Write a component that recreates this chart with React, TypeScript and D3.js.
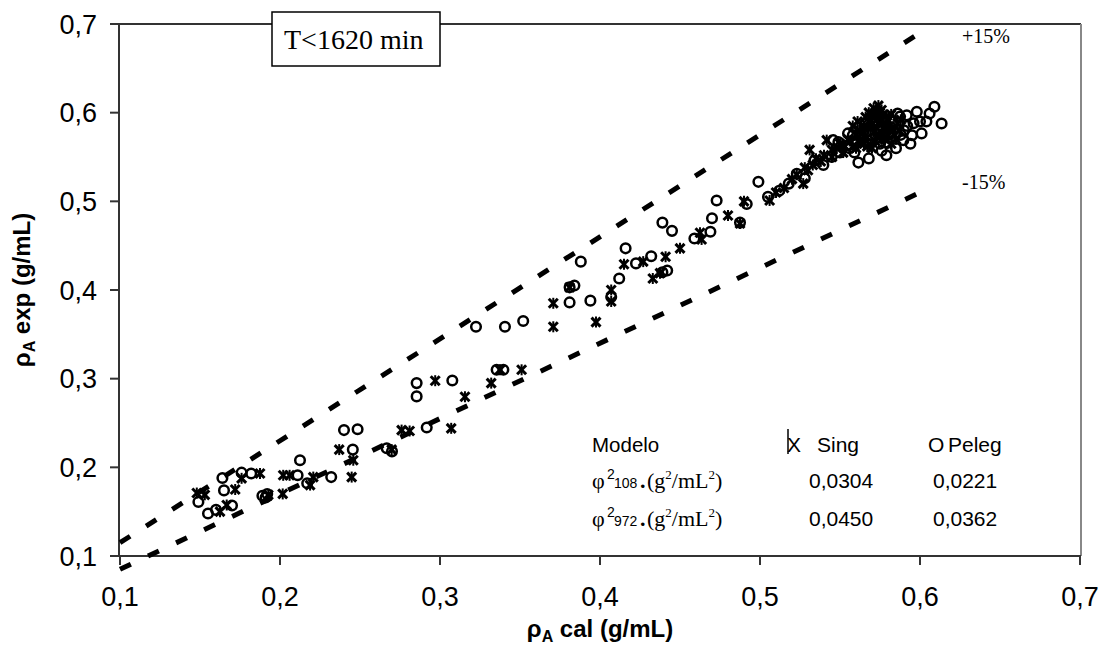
import React from "react";
import * as d3 from "d3";

// ---- data ----
const xTicks = [0.1, 0.2, 0.3, 0.4, 0.5, 0.6, 0.7];
const yTicks = [0.1, 0.2, 0.3, 0.4, 0.5, 0.6, 0.7];
const tickLabels = ["0,1", "0,2", "0,3", "0,4", "0,5", "0,6", "0,7"];

const singPoints: [number, number][] = [
  [0.148, 0.171], [0.153, 0.169], [0.1625, 0.15], [0.1667, 0.1575], [0.172, 0.175],
  [0.176, 0.1876], [0.1875, 0.193], [0.1927, 0.169], [0.2017, 0.17], [0.202, 0.191],
  [0.206, 0.191], [0.2208, 0.189], [0.2188, 0.18], [0.237, 0.22], [0.2458, 0.208],
  [0.2448, 0.189], [0.2698, 0.22], [0.276, 0.242], [0.281, 0.241], [0.307, 0.244],
  [0.297, 0.2977], [0.3156, 0.2796], [0.332, 0.295], [0.3375, 0.31], [0.351, 0.31],
  [0.3708, 0.385], [0.3708, 0.3585], [0.3975, 0.3638], [0.407, 0.4], [0.407, 0.387],
  [0.381, 0.403], [0.415, 0.429], [0.427, 0.432], [0.433, 0.413], [0.4375, 0.419],
  [0.441, 0.4375], [0.45, 0.447], [0.4625, 0.4646], [0.4635, 0.457], [0.48, 0.484],
  [0.4875, 0.475], [0.49, 0.5], [0.506, 0.501], [0.51, 0.51], [0.515, 0.515],
  [0.52, 0.525], [0.523, 0.53], [0.527, 0.52], [0.53, 0.535], [0.531, 0.558],
  [0.535, 0.548], [0.538, 0.545], [0.5417, 0.569], [0.545, 0.55], [0.548, 0.56],
  [0.55, 0.565], [0.552, 0.555], [0.555, 0.57], [0.558, 0.562], [0.56, 0.575],
  [0.562, 0.58], [0.565, 0.585], [0.567, 0.572], [0.568, 0.59], [0.57, 0.595],
  [0.571, 0.578], [0.572, 0.6], [0.573, 0.583], [0.574, 0.608], [0.575, 0.59],
  [0.576, 0.57], [0.577, 0.598], [0.578, 0.585], [0.58, 0.575], [0.58, 0.592],
  [0.582, 0.565], [0.583, 0.58], [0.585, 0.57], [0.586, 0.588], [0.565, 0.565],
  [0.56, 0.56], [0.57, 0.56], [0.575, 0.6], [0.568, 0.6],
  [0.558, 0.585], [0.561, 0.59], [0.563, 0.57], [0.566, 0.595], [0.569, 0.583],
  [0.571, 0.605], [0.573, 0.592], [0.574, 0.575], [0.576, 0.603], [0.577, 0.588],
  [0.579, 0.596], [0.579, 0.58], [0.581, 0.585], [0.582, 0.598], [0.584, 0.575],
  [0.587, 0.58], [0.588, 0.592], [0.564, 0.577], [0.567, 0.562], [0.572, 0.568],
  [0.578, 0.57], [0.57, 0.587], [0.574, 0.597], [0.562, 0.567], [0.553, 0.562],
  [0.556, 0.568], [0.545, 0.558], [0.54, 0.552], [0.528, 0.538], [0.533, 0.541]
];

const pelegPoints: [number, number][] = [
  [0.149, 0.161], [0.155, 0.148], [0.16, 0.152], [0.165, 0.174], [0.164, 0.188],
  [0.17, 0.157], [0.176, 0.194], [0.182, 0.193], [0.189, 0.168], [0.192, 0.17],
  [0.191, 0.166], [0.2125, 0.208], [0.211, 0.191], [0.217, 0.182], [0.232, 0.189],
  [0.2455, 0.22], [0.24, 0.242], [0.2485, 0.243], [0.2667, 0.2215], [0.27, 0.218],
  [0.2917, 0.245], [0.2854, 0.295], [0.2854, 0.28], [0.3077, 0.298], [0.3354, 0.31],
  [0.3396, 0.31], [0.3225, 0.3585], [0.3406, 0.3585], [0.352, 0.365], [0.381, 0.403],
  [0.384, 0.405], [0.381, 0.386], [0.394, 0.388], [0.388, 0.432], [0.407, 0.392],
  [0.412, 0.413], [0.416, 0.447], [0.4225, 0.43], [0.432, 0.438], [0.439, 0.476],
  [0.445, 0.4667], [0.439, 0.42], [0.442, 0.422], [0.459, 0.458], [0.469, 0.4657],
  [0.47, 0.481], [0.4729, 0.501], [0.4875, 0.476], [0.4917, 0.497], [0.499, 0.522],
  [0.505, 0.505], [0.512, 0.512], [0.518, 0.52], [0.523, 0.531], [0.528, 0.526],
  [0.534, 0.546], [0.5396, 0.541], [0.5448, 0.55], [0.5458, 0.569], [0.549, 0.567],
  [0.555, 0.5766], [0.558, 0.5746], [0.5615, 0.5437], [0.568, 0.5484], [0.579, 0.552],
  [0.5875, 0.5955], [0.5896, 0.569], [0.5917, 0.597], [0.595, 0.5746], [0.598, 0.601],
  [0.601, 0.5766], [0.604, 0.59], [0.606, 0.599], [0.609, 0.6067], [0.6135, 0.5878],
  [0.585, 0.56], [0.59, 0.58], [0.565, 0.58], [0.57, 0.57], [0.575, 0.565],
  [0.58, 0.575], [0.583, 0.59], [0.56, 0.565], [0.572, 0.59], [0.596, 0.588],
  [0.55, 0.555], [0.556, 0.56],
  [0.566, 0.588], [0.571, 0.598], [0.577, 0.593], [0.582, 0.583], [0.586, 0.599],
  [0.574, 0.58], [0.563, 0.575], [0.58, 0.566], [0.588, 0.575], [0.592, 0.585],
  [0.6, 0.59], [0.594, 0.565], [0.576, 0.557], [0.568, 0.565], [0.559, 0.555]
];

const refLineX = [0.1, 0.6];
const upperFactor = 1.15;
const lowerFactor = 0.85;

const legendRows = [
  { sub: "108", sing: "0,0304", peleg: "0,0221" },
  { sub: "972", sing: "0,0450", peleg: "0,0362" }
];

const SANS = "'Liberation Sans', Arial, sans-serif";
const SERIF = "'Liberation Serif', 'Times New Roman', serif";

export default function App() {
  const W = 1108, H = 645;
  const x = d3.scaleLinear().domain([0.1, 0.7]).range([120, 1080]);
  const y = d3.scaleLinear().domain([0.1, 0.7]).range([556, 24]);

  const line = d3.line<number>().x(d => x(d[0])).y(d => y(d[1]));
  const upper = line(refLineX.map(v => [v, v * upperFactor]) as any);
  const lower = line(refLineX.map(v => [v, v * lowerFactor]) as any);

  const axisCol = "#333";

  return (
    <svg width={W} height={H} style={{ position: "absolute", left: 0, top: 0, background: "#fff" }}>
      <rect x={0} y={0} width={W} height={H} fill="#fff" />
      {/* frame */}
      <line x1={119} y1={24} x2={1081} y2={24} stroke={axisCol} strokeWidth={2} />
      <line x1={1081} y1={24} x2={1081} y2={556} stroke="#888" strokeWidth={2} />
      <line x1={119} y1={23} x2={119} y2={557} stroke={axisCol} strokeWidth={2} />
      <line x1={110} y1={556} x2={1081} y2={556} stroke={axisCol} strokeWidth={2} />

      {yTicks.map((t, i) => (
        <g key={"y" + i}>
          <line x1={110} x2={119} y1={y(t)} y2={y(t)} stroke={axisCol} strokeWidth={2} />
          <text x={97} y={y(t) + 9.5} textAnchor="end" fontFamily={SANS} fontSize={27} fill="#000">
            {tickLabels[i]}
          </text>
        </g>
      ))}
      {xTicks.map((t, i) => (
        <g key={"x" + i}>
          <line x1={x(t)} x2={x(t)} y1={556} y2={565} stroke={axisCol} strokeWidth={2} />
          <text x={x(t)} y={606} textAnchor="middle" fontFamily={SANS} fontSize={27} fill="#000">
            {tickLabels[i]}
          </text>
        </g>
      ))}

      {/* reference lines */}
      <path d={upper || ""} stroke="#000" strokeWidth={5} strokeDasharray="12 19" fill="none" />
      <path d={lower || ""} stroke="#000" strokeWidth={5} strokeDasharray="12 19" fill="none" />

      {/* markers */}
      {pelegPoints.map((p, i) => (
        <circle key={"p" + i} cx={x(p[0])} cy={y(p[1])} r={4.8} fill="none" stroke="#000" strokeWidth={2.5} />
      ))}
      {singPoints.map((p, i) => {
        const cx = x(p[0]), cy = y(p[1]);
        return (
          <g key={"s" + i} stroke="#000" strokeWidth={3}>
            <line x1={cx - 4.5} y1={cy - 4.5} x2={cx + 4.5} y2={cy + 4.5} />
            <line x1={cx - 4.5} y1={cy + 4.5} x2={cx + 4.5} y2={cy - 4.5} />
            <line x1={cx} y1={cy - 5.5} x2={cx} y2={cy + 5.5} strokeWidth={2} />
          </g>
        );
      })}

      {/* labels for reference lines */}
      <text x={962} y={43} fontFamily={SERIF} fontSize={20} fill="#000">+15%</text>
      <text x={962} y={189} fontFamily={SERIF} fontSize={20} fill="#000">-15%</text>

      {/* title box */}
      <rect x={272} y={12} width={168} height={54} fill="#fff" stroke="#000" strokeWidth={1.5} />
      <text x={284} y={49} fontFamily={SERIF} fontSize={28} fill="#000">T&lt;1620 min</text>

      {/* legend table */}
      <text x={592} y={452} fontFamily={SANS} fontSize={20.5} fill="#000">Modelo</text>
      <text x={787} y={452} fontFamily={SANS} fontSize={21} fill="#000">X</text>
      <line x1={788} y1={429} x2={788} y2={454} stroke="#000" strokeWidth={1.5} />
      <text x={817} y={452} fontFamily={SANS} fontSize={21} fill="#000">Sing</text>
      <text x={928} y={452} fontFamily={SANS} fontSize={21} fill="#000">O</text>
      <text x={948} y={452} fontFamily={SANS} fontSize={21} fill="#000">Peleg</text>
      {legendRows.map((r, i) => {
        const by = 488 + i * 38;
        return (
          <g key={"lr" + i}>
            <text x={592} y={by} fontFamily={SERIF} fontSize={22} fill="#000">φ</text>
            <text x={607} y={by - 9} fontFamily={SANS} fontSize={14} fill="#000">2</text>
            <text x={614} y={by} fontFamily={SANS} fontSize={14} fill="#000">{r.sub}</text>
            <text x={640} y={by} fontFamily={SERIF} fontSize={22} fontWeight="bold" fill="#000">.</text>
            <text x={647} y={by} fontFamily={SERIF} fontSize={22} fill="#000">
              (g<tspan fontSize={13} dy={-9}>2</tspan><tspan dy={9}>/mL</tspan><tspan fontSize={13} dy={-9}>2</tspan><tspan dy={9}>)</tspan>
            </text>
            <text x={809} y={by} fontFamily={SANS} fontSize={21} fill="#000">{r.sing}</text>
            <text x={933} y={by} fontFamily={SANS} fontSize={21} fill="#000">{r.peleg}</text>
          </g>
        );
      })}

      {/* axis titles */}
      <text x={600} y={637} textAnchor="middle" fontFamily={SANS} fontSize={24} fontWeight="bold" fill="#000">
        ρ<tspan fontSize={16} dy={5}>A</tspan><tspan dy={-5}> cal (g/mL)</tspan>
      </text>
      <text transform="translate(30,290) rotate(-90)" textAnchor="middle" fontFamily={SANS} fontSize={24} fontWeight="bold" fill="#000">
        ρ<tspan fontSize={16} dy={5}>A</tspan><tspan dy={-5}> exp (g/mL)</tspan>
      </text>
    </svg>
  );
}
